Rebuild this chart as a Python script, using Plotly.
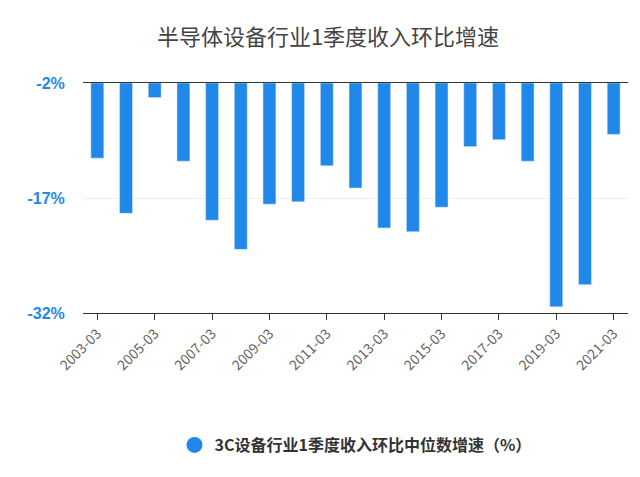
import plotly.graph_objects as go

years = [str(y) + "-03" for y in range(2003, 2022)]
growth = [-11.8, -19.0, -3.9, -12.2, -19.9, -23.7, -17.8, -17.5, -12.8, -15.7,
          -20.9, -21.4, -18.2, -10.3, -9.4, -12.2, -31.2, -28.3, -8.7]
tick_vals = [-2, -17, -32]
tick_text = ["<b>-2%</b>", "<b>-17%</b>", "<b>-32%</b>"]
series_name = "<b>3C设备行业1季度收入环比中位数增速（%）</b>"

fig = go.Figure()
fig.add_trace(go.Bar(
    x=years, y=[v + 2 for v in growth], base=-2,
    marker_color="#1f88e8", width=0.45, showlegend=False,
))
# legend entry with round marker
fig.add_trace(go.Scatter(
    x=[None], y=[None], mode="markers", name=series_name,
    marker=dict(symbol="circle", size=18, color="#1f88e8"),
))

fig.update_layout(
    width=640, height=477,
    paper_bgcolor="white", plot_bgcolor="white",
    font=dict(family="Noto Sans CJK SC"),
    title=dict(text="半导体设备行业1季度收入环比增速", x=0.5, y=0.955,
               font=dict(size=22, color="#444")),
    margin=dict(l=75, r=20, t=75, b=172),
    showlegend=True,
    legend=dict(orientation="h", x=0.5, xanchor="center", y=-0.5,
                font=dict(size=16, color="#333")),
)
fig.update_xaxes(
    type="category",
    tickangle=-45, tickvals=years[::2], ticks="outside", ticklen=6,
    tickcolor="#333", tickfont=dict(size=14, color="#666"),
    showline=True, linecolor="#333", mirror=True, showgrid=False,
)
fig.update_yaxes(
    range=[-32, -2], tickvals=tick_vals, ticktext=tick_text,
    tickfont=dict(size=16, color="#1f88e8", family="Liberation Sans"),
    showgrid=True, gridcolor="#eeeeee", zeroline=False,
    showline=False, ticks="outside", ticklen=14, tickcolor="white",
)
fig.write_html("out.html")
